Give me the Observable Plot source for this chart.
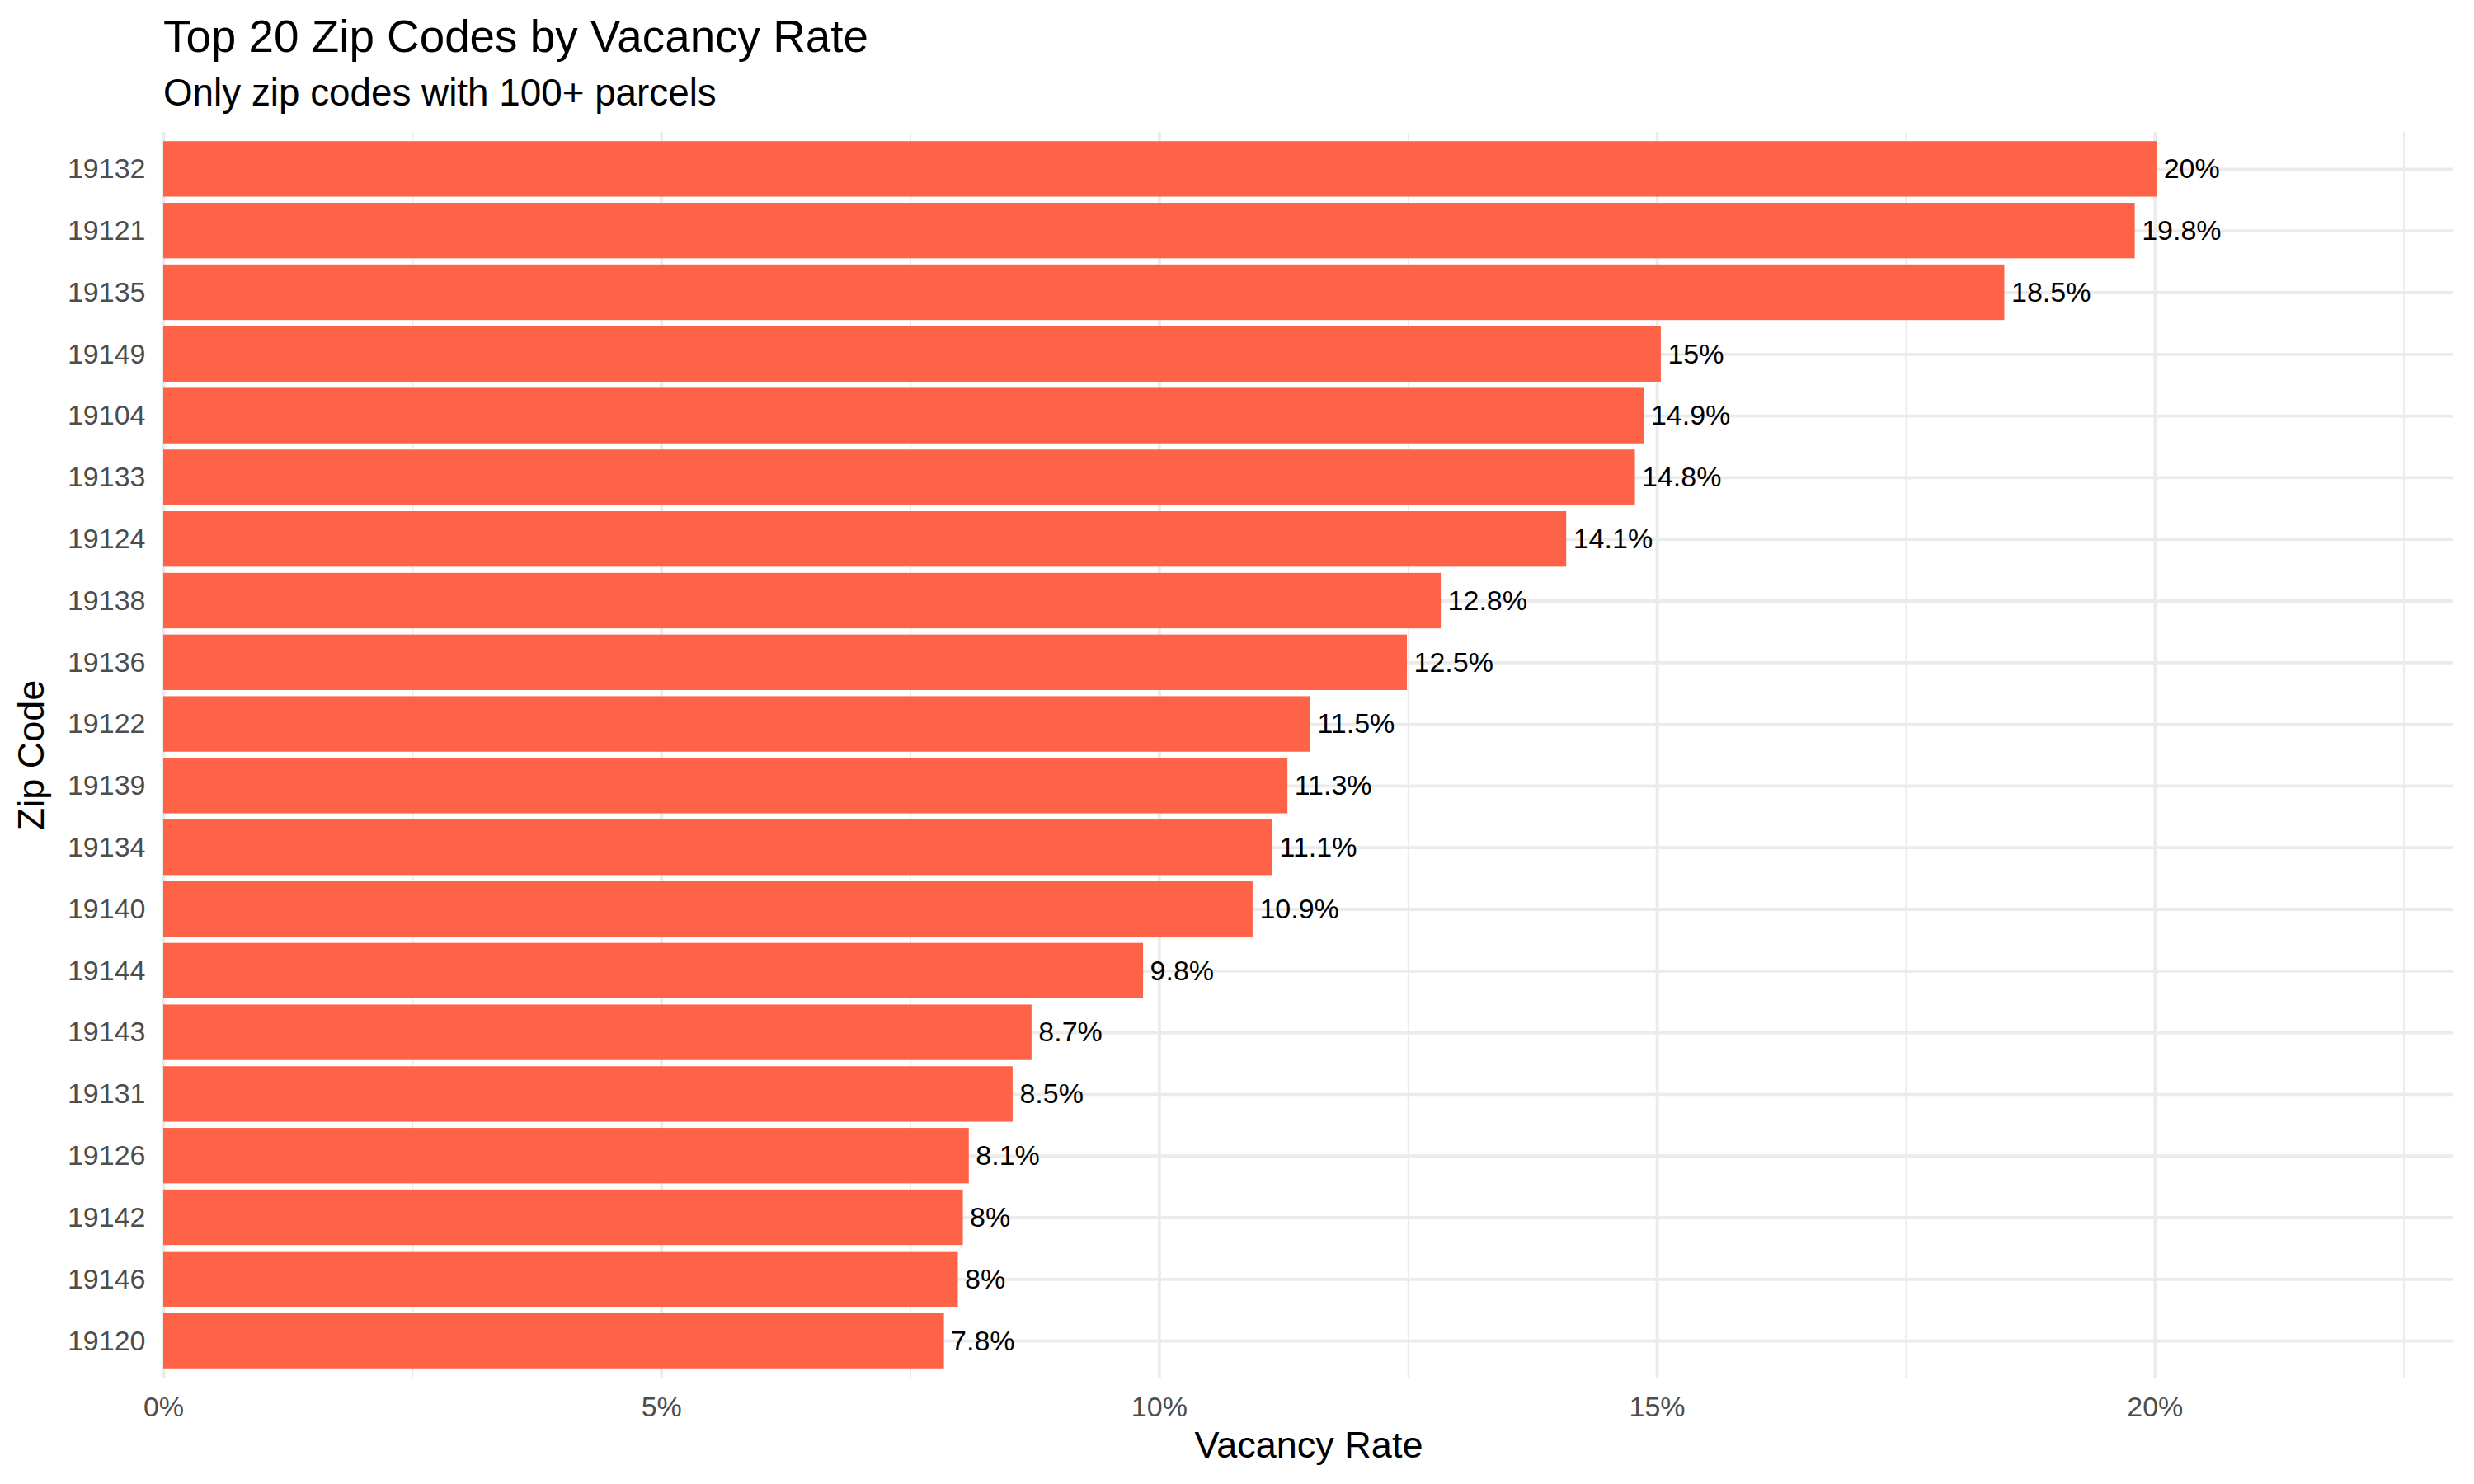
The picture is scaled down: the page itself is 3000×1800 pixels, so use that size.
<!DOCTYPE html>
<html>
<head>
<meta charset="utf-8">
<script src="https://cdn.jsdelivr.net/npm/d3@7"></script>
<script src="https://cdn.jsdelivr.net/npm/@observablehq/plot@0.6"></script>
<style>
  html, body { margin: 0; padding: 0; background: #ffffff; }
  body { width: 3000px; height: 1800px; font-family: "Liberation Sans", Arial, sans-serif; }
  #header { position: relative; width: 3000px; height: 145px; }
  #title { position: absolute; left: 198px; top: 16.5px; font-size: 54.8px; line-height: 1; color: #000; white-space: nowrap; }
  #subtitle { position: absolute; left: 198px; top: 89.5px; font-size: 45.8px; line-height: 1; color: #000; white-space: nowrap; }
  #chart svg { display: block; }
</style>
</head>
<body>
<div id="header">
  <div id="title">Top 20 Zip Codes by Vacancy Rate</div>
  <div id="subtitle">Only zip codes with 100+ parcels</div>
</div>
<div id="chart"></div>
<script>
const zips = ["19132","19121","19135","19149","19104","19133","19124","19138","19136","19122",
              "19139","19134","19140","19144","19143","19131","19126","19142","19146","19120"];
const rates = [20.02, 19.80, 18.49, 15.04, 14.87, 14.78, 14.09, 12.83, 12.49, 11.52,
               11.29, 11.14, 10.94, 9.84, 8.72, 8.53, 8.09, 8.03, 7.98, 7.84];
const majorTicks = [0, 5, 10, 15, 20];
const minorTicks = [2.5, 7.5, 12.5, 17.5, 22.5];
const xMax = 23;

const data = zips.map((z, i) => ({zip: z, rate: rates[i], label: (+rates[i].toFixed(1)) + "%"}));

const grid = "#EBEBEB";
const chart = Plot.plot({
  width: 3000,
  height: 1655,
  marginTop: 15,
  marginBottom: 129,
  marginLeft: 198,
  marginRight: 25,
  style: {fontFamily: "Liberation Sans, Arial, sans-serif", background: "#ffffff", overflow: "visible"},
  x: {domain: [0, xMax], label: null},
  y: {type: "band", domain: zips, paddingInner: 0.1, paddingOuter: 0.15, round: false, label: null},
  marks: [
    Plot.gridX({ticks: minorTicks, stroke: grid, strokeOpacity: 1, strokeWidth: 1.9}),
    Plot.gridX({ticks: majorTicks, stroke: grid, strokeOpacity: 1, strokeWidth: 3.8}),
    Plot.gridY({stroke: grid, strokeOpacity: 1, strokeWidth: 3.8}),
    Plot.barX(data, {x: "rate", y: "zip", fill: "#FF6347"}),
    Plot.text(data, {x: "rate", y: "zip", text: "label", textAnchor: "start", dx: 8, fontSize: 34, fill: "#000000"}),
    Plot.axisX({ticks: majorTicks, tickFormat: d => d + "%", tickSize: 0, tickPadding: 22, fontSize: 34, color: "#4D4D4D", label: null}),
    Plot.axisY({tickSize: 0, tickPadding: 22, fontSize: 34, color: "#4D4D4D", label: null}),
    Plot.text(["Vacancy Rate"], {frameAnchor: "bottom", textAnchor: "middle", lineAnchor: "middle", dy: 82, fontSize: 45, fill: "#000000"}),
    Plot.text(["Zip Code"], {frameAnchor: "left", textAnchor: "middle", lineAnchor: "middle", rotate: -90, dx: -160, fontSize: 45, fill: "#000000"})
  ]
});
document.getElementById("chart").appendChild(chart);
</script>
</body>
</html>
